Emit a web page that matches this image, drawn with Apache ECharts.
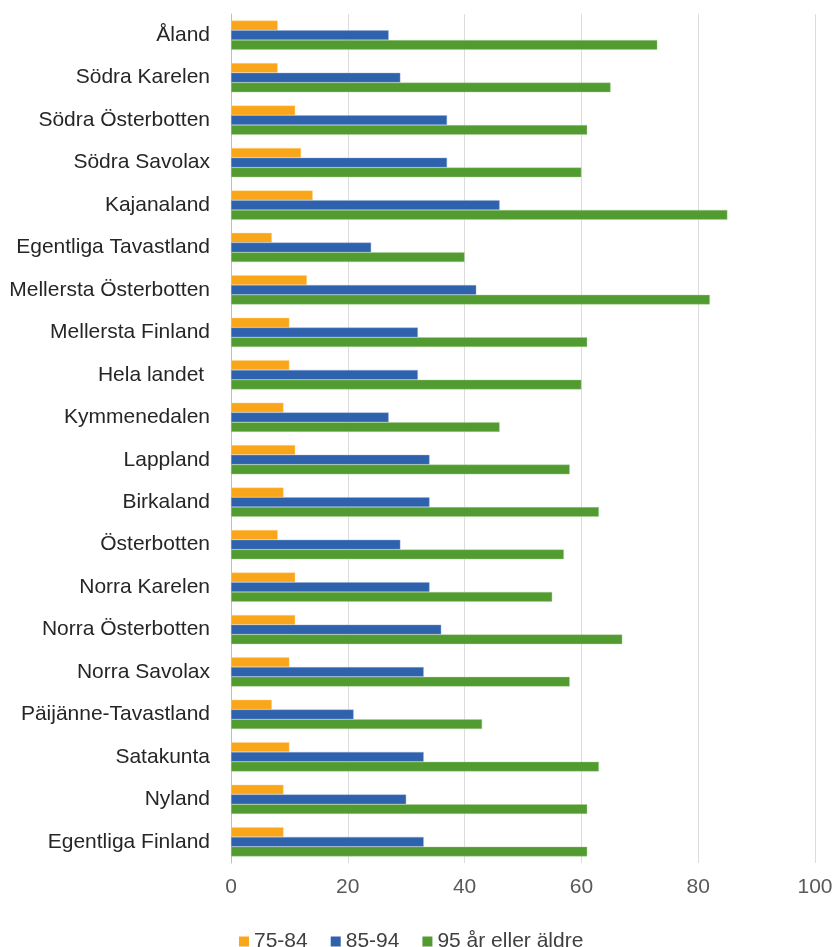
<!DOCTYPE html>
<html>
<head>
<meta charset="utf-8">
<script src="https://cdn.jsdelivr.net/npm/echarts@6/dist/echarts.min.js"></script>
<style>
html,body{margin:0;padding:0;background:#fff;}
#chart{width:838px;height:947px;}
</style>
</head>
<body>
<div id="chart"></div>
<script>
const categories = ["Åland","Södra Karelen","Södra Österbotten","Södra Savolax","Kajanaland","Egentliga Tavastland","Mellersta Österbotten","Mellersta Finland","Hela landet ","Kymmenedalen","Lappland","Birkaland","Österbotten","Norra Karelen","Norra Österbotten","Norra Savolax","Päijänne-Tavastland","Satakunta","Nyland","Egentliga Finland"];
const s7584 = [8,8,11,12,14,7,13,10,10,9,11,9,8,11,11,10,7,10,9,9];
const s8594 = [27,29,37,37,46,24,42,32,32,27,34,34,29,34,36,33,21,33,30,33];
const s95 = [73,65,61,60,85,40,82,61,60,46,58,63,57,55,67,58,43,63,61,61];
const seriesNames = ["75-84","85-94","95 år eller äldre"];
const xTicks = [0,20,40,60,80,100];

const colors = ["#faa61a","#2e62ad","#529b31"];
const borders = ["rgba(255,215,140,0.8)","rgba(150,175,220,0.8)","rgba(170,210,150,0.8)"];
const chart = echarts.init(document.getElementById('chart'), null, {renderer:'canvas'});
const font = '"Liberation Sans", Arial, sans-serif';
const data = [s7584, s8594, s95];
chart.setOption({
  animation:false,
  color: colors,
  textStyle:{fontFamily:font},
  grid:{left:231, right:23, top:14, bottom:84, containLabel:false},
  legend:{
    data: seriesNames,
    left:234, top:926,
    itemWidth:10, itemHeight:10, itemGap:23,
    icon:'rect',
    itemStyle:{borderWidth:0},
    textStyle:{fontSize:21, color:'#404040', fontFamily:font}
  },
  xAxis:{
    type:'value', min:xTicks[0], max:xTicks[xTicks.length-1], interval:20,
    axisLine:{show:false}, axisTick:{show:false},
    splitLine:{lineStyle:{color:'#dcdcdc', width:1}},
    axisLabel:{fontSize:21, color:'#595959', margin:14, fontFamily:font}
  },
  yAxis:{
    type:'category', data:categories, inverse:true,
    axisLine:{lineStyle:{color:'#bfbfbf', width:1}},
    axisTick:{show:false},
    axisLabel:{fontSize:21, color:'#262626', margin:21, fontFamily:font}
  },
  series: seriesNames.map((n,i)=>({
    name:n, type:'bar', data:data[i],
    barGap:'0%', barCategoryGap:'31%',
    itemStyle:{color:colors[i], borderColor:borders[i], borderWidth:0.5}
  }))
});
</script>
</body>
</html>
